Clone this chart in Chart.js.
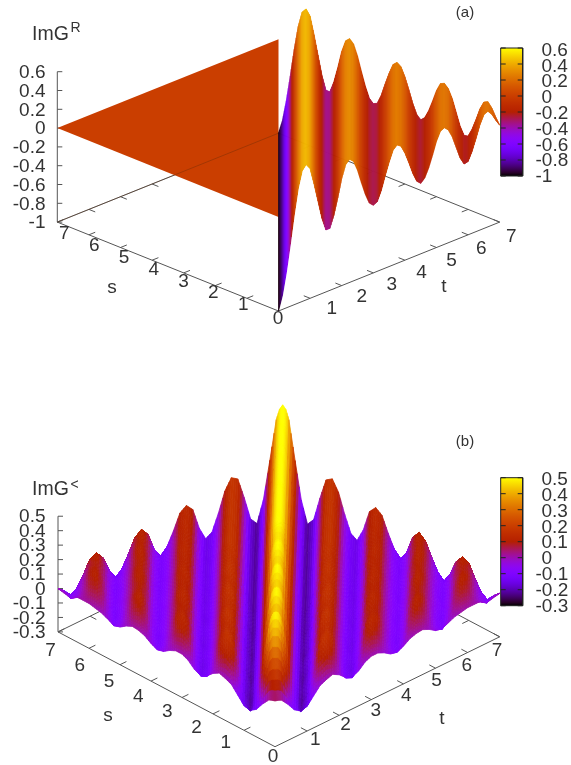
<!DOCTYPE html>
<html>
<head>
<meta charset="utf-8">
<script src="https://cdn.jsdelivr.net/npm/chart.js@4"></script>
<style>
html, body { margin: 0; padding: 0; background: #fff; }
canvas { position: absolute; left: 0; filter: blur(0.6px); }
</style>
</head>
<body>
<canvas id="panelA" width="571" height="380" style="top:0;width:571px;height:380px"></canvas>
<canvas id="panelB" width="571" height="385" style="top:380px;width:571px;height:385px"></canvas>
<script>
// Panel (a): ImG^R depends on t-s only, so one profile read along the ridges is enough
const aTau = [0,0.125,0.25,0.375,0.5,0.625,0.75,0.875,1,1.125,1.25,1.375,1.5,1.625,1.75,1.875,2,2.125,2.25,2.375,2.5,2.625,2.75,2.875,3,3.125,3.25,3.375,3.5,3.625,3.75,3.875,4,4.125,4.25,4.375,4.5,4.625,4.75,4.875,5,5.125,5.25,5.375,5.5,5.625,5.75,5.875,6,6.125,6.25,6.375,6.5,6.625,6.75,6.875,7];
const aValues = [-1,-0.85,-0.62,-0.34,-0.04,0.22,0.39,0.44,0.38,0.2,0,-0.2,-0.34,-0.34,-0.22,-0.05,0.14,0.27,0.31,0.27,0.16,0.01,-0.13,-0.24,-0.28,-0.26,-0.16,-0.02,0.11,0.22,0.26,0.23,0.14,0.02,-0.11,-0.21,-0.25,-0.21,-0.12,0,0.13,0.22,0.24,0.2,0.11,-0.02,-0.15,-0.23,-0.22,-0.13,-0.01,0.12,0.21,0.23,0.18,0.1,0.03];
const aZTicks = [0.6,0.4,0.2,0,-0.2,-0.4,-0.6,-0.8,-1];
const aFlatZ = 0;

// Panel (b): ImG^< by distance from the diagonal (columns) and distance from the front edges (rows)
const bTau = [0,0.1,0.2,0.4,0.6,0.8,1,1.2,1.4,1.6,1.8,2,2.2,2.4,2.6,2.8,3,3.2,3.4,3.6,3.8,4,4.2,4.4,4.6,4.8,5,5.2,5.4,5.6,5.8,6,6.2,6.4,6.6,6.8,7];
const bU = [0,0.12,0.3,0.6,0.95,1.3,1.65,2,2.35,2.7,3.05,3.4,7];
const bRow0 = [0.016,0.01,0,-0.05,-0.11,-0.14,-0.13,-0.08,-0.03,-0.01,0.005,-0.02,-0.06,-0.08,-0.06,-0.02,0,0,-0.02,-0.05,-0.06,-0.04,-0.01,0.005,0.01,-0.01,-0.04,-0.05,-0.03,-0.01,0,0.01,0.01,0.01,-0.02,-0.01,0];
const bRow1 = [0.21,0.2,0.172,0.04,-0.1,-0.17,-0.15,-0.05,0.04,0.07,0.05,-0.02,-0.09,-0.11,-0.06,0.02,0.056,0.044,-0.01,-0.06,-0.085,-0.05,0.02,0.05,0.04,-0.006,-0.056,-0.08,-0.04,0.02,0.046,0.044,0.01,-0.02,-0.05,-0.02];
const bRow2 = [0.4,0.39,0.335,0.12,-0.09,-0.205,-0.16,-0.02,0.11,0.14,0.09,-0.02,-0.115,-0.14,-0.06,0.07,0.11,0.086,0,-0.073,-0.108,-0.056,0.05,0.1,0.07,0,-0.07,-0.105,-0.046,0.045,0.09,0.076,0.01,-0.045,-0.075];
const bRow3 = [0.51,0.49,0.43,0.17,-0.08,-0.224,-0.17,0,0.15,0.18,0.11,-0.02,-0.13,-0.155,-0.06,0.09,0.14,0.11,0.01,-0.08,-0.122,-0.06,0.07,0.125,0.09,0,-0.08,-0.12,-0.05,0.06,0.115,0.095,0.01,-0.06];
const bRow4 = [0.43,0.41,0.36,0.14,-0.08,-0.21,-0.16,-0.01,0.12,0.15,0.09,-0.02,-0.12,-0.14,-0.06,0.07,0.115,0.09,0.005,-0.075,-0.11,-0.055,0.06,0.1,0.075,0,-0.07,-0.105,-0.05,0.05,0.095,0.08];
const bRow5 = [0.51,0.49,0.43,0.17,-0.08,-0.224,-0.17,0,0.15,0.18,0.11,-0.02,-0.13,-0.155,-0.06,0.09,0.14,0.11,0.01,-0.08,-0.122,-0.06,0.07,0.125,0.09,0,-0.08,-0.12,-0.05,0.06];
const bRow6 = [0.45,0.43,0.38,0.14,-0.08,-0.21,-0.16,-0.01,0.125,0.155,0.095,-0.02,-0.12,-0.145,-0.06,0.08,0.12,0.095,0.005,-0.075,-0.11,-0.055,0.06,0.11,0.08,0,-0.07,-0.105];
const bRow7 = [0.51,0.49,0.43,0.17,-0.08,-0.224,-0.17,0,0.15,0.18,0.11,-0.02,-0.13,-0.155,-0.06,0.09,0.14,0.11,0.01,-0.08,-0.122,-0.06,0.07,0.125,0.09,0,-0.08];
const bRow8 = [0.46,0.44,0.39,0.15,-0.08,-0.215,-0.165,0,0.13,0.16,0.1,-0.02,-0.125,-0.15,-0.06,0.08,0.125,0.1,0.005,-0.08,-0.115,-0.06,0.06,0.115,0.08];
const bRow9 = [0.51,0.49,0.43,0.17,-0.08,-0.224,-0.17,0,0.15,0.18,0.11,-0.02,-0.13,-0.155,-0.06,0.09,0.14,0.11,0.01,-0.08,-0.122,-0.06,0.07];
const bRow10 = [0.475,0.46,0.405,0.16,-0.08,-0.22,-0.165,0,0.14,0.165,0.105,-0.02,-0.13,-0.15,-0.06,0.085,0.13,0.105,0.005,-0.08,-0.115];
const bRow11 = [0.51,0.49,0.43,0.17,-0.08,-0.224,-0.17,0,0.15,0.18,0.11,-0.02,-0.13,-0.155,-0.06,0.09,0.14,0.11,0.01,-0.08];
const bFar = [0.51,0.49,0.43,0.17,-0.08,-0.224,-0.17,0,0.15,0.18,0.11,-0.02,-0.13,-0.155,-0.06,0.09,0.14,0.11,0.01,-0.08,-0.122,-0.06,0.07,0.125,0.09,0,-0.08,-0.12,-0.05,0.06,0.115,0.095,0.01,-0.06,-0.09,-0.04,0];
const bRows = [bRow0,bRow1,bRow2,bRow3,bRow4,bRow5,bRow6,bRow7,bRow8,bRow9,bRow10,bRow11,bFar];
const bZTicks = [0.5,0.4,0.3,0.2,0.1,0,-0.1,-0.2,-0.3];

const axisTicks = [1,2,3,4,5,6,7];
const AXIS_COLOR = '#555';
const TEXT_COLOR = '#333';
const FONT = 'Liberation Sans';

// gnuplot default pm3d palette
function palette(v) {
    const x = Math.min(1, Math.max(0, v));
    const r = Math.sqrt(x) * 255;
    const g = x * x * x * 255;
    const b = Math.max(0, Math.sin(2 * Math.PI * x)) * 255;
    return 'rgb(' + Math.round(r) + ',' + Math.round(g) + ',' + Math.round(b) + ')';
}

function projector(v) {
    return (s, t, z) => ({
        x: v.ox + s * v.sx + t * v.tx,
        y: v.oy + s * v.sy + t * v.ty - (z - v.zMin) * v.zUnit,
        z: z
    });
}

function lineSet(points, color, width, order) {
    return { data: points, showLine: true, borderColor: color, borderWidth: width, pointRadius: 0, fill: false, order: order };
}

// several short lines in one dataset, split with NaN points
function joinSegments(segments) {
    const out = [];
    segments.forEach(seg => { out.push(seg[0], seg[1], { x: NaN, y: NaN }); });
    return out;
}

function axisDatasets(view, project, zTicks) {
    const zMin = view.zMin, zMax = view.zMax;
    const front = [project(7, 0, zMin), project(0, 0, zMin), project(0, 7, zMin)];
    const back = [project(7, 0, zMin), project(7, 7, zMin), project(0, 7, zMin)];
    const zAxis = [project(7, 0, zMin), project(7, 0, zMax)];
    const frontTicks = [], backTicks = [];
    axisTicks.forEach(n => {
        frontTicks.push([project(n, 0, zMin), project(n, 0.2, zMin)]);
        frontTicks.push([project(0, n, zMin), project(0.2, n, zMin)]);
        backTicks.push([project(n, 7, zMin), project(n, 6.8, zMin)]);
        backTicks.push([project(7, n, zMin), project(6.8, n, zMin)]);
    });
    const zMarks = zTicks.map(z => {
        const p = project(7, 0, z);
        return [p, { x: p.x + 5, y: p.y }];
    });
    return [
        lineSet(back, AXIS_COLOR, 1, 1000),
        lineSet(joinSegments(backTicks), AXIS_COLOR, 1, 1000),
        lineSet(front, AXIS_COLOR, 1, 900),
        lineSet(joinSegments(frontTicks), AXIS_COLOR, 1, 900),
        lineSet(zAxis, AXIS_COLOR, 1, 900),
        lineSet(joinSegments(zMarks), AXIS_COLOR, 1, 900)
    ];
}

function colorBoxDatasets(canvas, box, yMin, zTicks) {
    const ctx = canvas.getContext('2d');
    const grad = ctx.createLinearGradient(0, box.top - yMin, 0, box.bottom - yMin);
    for (let i = 0; i <= 40; i++) grad.addColorStop(i / 40, palette(1 - i / 40));
    const mid = (box.left + box.right) / 2;
    const yOf = z => box.top + (box.zMax - z) / (box.zMax - box.zMin) * (box.bottom - box.top);
    const marks = [];
    zTicks.forEach(z => {
        marks.push([{ x: box.left, y: yOf(z) }, { x: box.left + 5, y: yOf(z) }]);
        marks.push([{ x: box.right - 5, y: yOf(z) }, { x: box.right, y: yOf(z) }]);
    });
    return [
        lineSet([{ x: mid, y: box.top }, { x: mid, y: box.bottom }], grad, box.right - box.left, 5),
        lineSet(joinSegments(marks), '#222', 1, 4),
        lineSet([
            { x: box.left, y: box.top }, { x: box.right, y: box.top },
            { x: box.right, y: box.bottom }, { x: box.left, y: box.bottom },
            { x: box.left, y: box.top }
        ], '#222', 1, 4)
    ];
}

// fills the strip between a row dataset and the next one, shading each piece by its z
const meshPlugin = {
    id: 'mesh',
    afterDatasetDraw(chart, args) {
        const ds = chart.data.datasets[args.index];
        if (ds.stripTo === undefined) return;
        const ctx = chart.ctx;
        const near = args.meta.data;
        const far = chart.getDatasetMeta(ds.stripTo).data;
        const nearZ = ds.data;
        const farZ = chart.data.datasets[ds.stripTo].data;
        const view = ds.view;
        const range = view.zMax - view.zMin;
        ctx.save();
        ctx.lineWidth = 0.8;
        for (let i = 0; i < near.length - 1; i++) {
            for (let a = 0; a < view.stepsAcross; a++) {
                for (let b = 0; b < view.stepsAlong; b++) {
                    const a0 = a / view.stepsAcross, a1 = (a + 1) / view.stepsAcross;
                    const b0 = b / view.stepsAlong, b1 = (b + 1) / view.stepsAlong;
                    const at = (u, v, key, n0, n1, f0, f1) => {
                        const n = n0[key] + (n1[key] - n0[key]) * u;
                        const f = f0[key] + (f1[key] - f0[key]) * u;
                        return n + (f - n) * v;
                    };
                    const px = (u, v) => at(u, v, 'x', near[i], near[i + 1], far[i], far[i + 1]);
                    const py = (u, v) => at(u, v, 'y', near[i], near[i + 1], far[i], far[i + 1]);
                    const z = at((a0 + a1) / 2, (b0 + b1) / 2, 'z', nearZ[i], nearZ[i + 1], farZ[i], farZ[i + 1]);
                    const color = palette((z - view.zMin) / range);
                    ctx.fillStyle = color;
                    ctx.strokeStyle = color;
                    ctx.beginPath();
                    ctx.moveTo(px(a0, b0), py(a0, b0));
                    ctx.lineTo(px(a1, b0), py(a1, b0));
                    ctx.lineTo(px(a1, b1), py(a1, b1));
                    ctx.lineTo(px(a0, b1), py(a0, b1));
                    ctx.closePath();
                    ctx.fill();
                    ctx.stroke();
                }
            }
        }
        ctx.restore();
    }
};

const flatPlugin = {
    id: 'flat',
    afterDatasetDraw(chart, args) {
        const ds = chart.data.datasets[args.index];
        if (!ds.flatColor) return;
        const pts = args.meta.data;
        const ctx = chart.ctx;
        ctx.save();
        ctx.fillStyle = ds.flatColor;
        ctx.beginPath();
        pts.forEach((p, i) => { if (i === 0) ctx.moveTo(p.x, p.y); else ctx.lineTo(p.x, p.y); });
        ctx.closePath();
        ctx.fill();
        ctx.restore();
    }
};

const textPlugin = {
    id: 'texts',
    afterDraw(chart) {
        const ctx = chart.ctx;
        const sx = chart.scales.x, sy = chart.scales.y;
        ctx.save();
        ctx.fillStyle = TEXT_COLOR;
        ctx.textBaseline = 'middle';
        chart.options.plugins.texts.items.forEach(it => {
            ctx.font = (it.size || 19) + 'px "' + FONT + '"';
            ctx.textAlign = it.align || 'center';
            ctx.fillText(it.text, sx.getPixelForValue(it.x), sy.getPixelForValue(it.y));
        });
        ctx.restore();
    }
};

function makeChart(canvas, yMin, yMax, datasets, items) {
    return new Chart(canvas, {
        type: 'scatter',
        data: { datasets: datasets },
        options: {
            responsive: false,
            animation: false,
            layout: { padding: 0 },
            events: [],
            scales: {
                x: { type: 'linear', display: false, min: 0, max: 571 },
                y: { type: 'linear', display: false, min: yMin, max: yMax, reverse: true }
            },
            plugins: { legend: { display: false }, tooltip: { enabled: false }, texts: { items: items } }
        },
        plugins: [meshPlugin, flatPlugin, textPlugin]
    });
}

function commonLabels(view, project, zTicks, box, lab) {
    const items = [];
    zTicks.forEach(z => {
        items.push({ text: String(z), x: 45.5, y: project(7, 0, z).y + 1, align: 'right' });
    });
    const boxStep = (box.labelBottom - box.labelTop) / (zTicks.length - 1);
    zTicks.forEach((z, i) => {
        const neg = z < 0;
        items.push({ text: String(z), x: neg ? 535.5 : 541.5, y: box.labelTop + i * boxStep, align: 'left' });
    });
    axisTicks.forEach(n => {
        items.push({ text: String(n), x: lab.sx0 + lab.sdx * n, y: lab.sy0 + lab.sdy * n });
        items.push({ text: String(n), x: lab.tx0 + lab.tdx * n, y: lab.ty0 + lab.tdy * n });
    });
    items.push({ text: '0', x: lab.zero[0], y: lab.zero[1] });
    items.push({ text: 's', x: lab.s[0], y: lab.s[1] });
    items.push({ text: 't', x: lab.t[0], y: lab.t[1] });
    items.push({ text: lab.tag, x: lab.tagPos[0], y: lab.tagPos[1], size: 15 });
    items.push({ text: 'ImG', x: 32, y: lab.titleY, align: 'left', size: 19.5 });
    items.push({ text: lab.sup, x: 70.5, y: lab.supY, align: 'left', size: 14 });
    return items;
}

// --- panel (a) ---
const viewA = { ox: 278.5, oy: 311, sx: -31.6, sy: -12.7, tx: 31.6, ty: -12.7, zUnit: 94, zMin: -1, zMax: 0.6, stepsAcross: 4, stepsAlong: 1 };
const projA = projector(viewA);
const boxA = { left: 500.7, right: 522.7, top: 48, bottom: 176, zMin: -1, zMax: 0.6, labelTop: 50.5, labelBottom: 177 };
const canvasA = document.getElementById('panelA');

const aFront = aTau.map((tau, i) => projA(0, tau, aValues[i]));
const aBack = aTau.map((tau, i) => projA(7 - tau, 7, aValues[i]));
const aFlat = [projA(7, 0, aFlatZ), projA(0, 0, aFlatZ), projA(7, 7, aFlatZ)];

const setsA = axisDatasets(viewA, projA, aZTicks);
setsA.push({ data: aFlat, showLine: false, pointRadius: 0, flatColor: palette((aFlatZ - viewA.zMin) / (viewA.zMax - viewA.zMin)), order: 300 });
const aFarIndex = setsA.length;
setsA.push({ data: aBack, showLine: false, pointRadius: 0, order: 201 });
setsA.push({ data: aFront, showLine: false, pointRadius: 0, stripTo: aFarIndex, view: viewA, order: 200 });
// back axis seen faintly through the flat sheet
setsA.push(lineSet([projA(7, 0, viewA.zMin), projA(7, 7, viewA.zMin)], 'rgba(90,40,10,0.35)', 1, 1));
colorBoxDatasets(canvasA, boxA, 0, aZTicks).forEach(d => setsA.push(d));

makeChart(canvasA, 0, 380, setsA, commonLabels(viewA, projA, aZTicks, boxA, {
    sx0: 273, sdx: -29.8, sy0: 317, sdy: -11.9,
    tx0: 302, tdx: 29.9, ty0: 321, tdy: -12,
    zero: [278, 319], s: [112, 288], t: [444, 287],
    tag: '(a)', tagPos: [465, 13], titleY: 35, sup: 'R', supY: 28
}));

// --- panel (b) ---
const viewB = { ox: 275, oy: 746.7, sx: -31, sy: -16.4, tx: 32.1, ty: -15.7, zUnit: 144.6, zMin: -0.3, zMax: 0.5, stepsAcross: 3, stepsAlong: 3 };
const projB = projector(viewB);
const boxB = { left: 500.7, right: 522.7, top: 477.7, bottom: 605.7, zMin: -0.3, zMax: 0.5, labelTop: 479.5, labelBottom: 607 };
const canvasB = document.getElementById('panelB');

const setsB = axisDatasets(viewB, projB, bZTicks);
// right half t>s, left half s>t, each painted from the far row to the front row
[false, true].forEach((mirror, side) => {
    const start = setsB.length;
    bRows.forEach((row, j) => {
        const points = bTau.map((tau, i) => {
            const u = Math.min(bU[j], 7 - tau);
            const z = row[i] !== undefined ? row[i] : bFar[i];
            return mirror ? projB(u + tau, u, z) : projB(u, u + tau, z);
        });
        const set = { data: points, showLine: false, pointRadius: 0, order: 500 - j };
        if (j < bRows.length - 1) {
            set.stripTo = start + j + 1;
            set.view = viewB;
            set.order = 500 - j - side * 0.5;
        }
        setsB.push(set);
    });
});
colorBoxDatasets(canvasB, boxB, 380, bZTicks).forEach(d => setsB.push(d));

makeChart(canvasB, 380, 765, setsB, commonLabels(viewB, projB, bZTicks, boxB, {
    sx0: 255, sdx: -29.2, sy0: 758, sdy: -15.3,
    tx0: 285, tdx: 30.3, ty0: 755, tdy: -14.9,
    zero: [273, 757], s: [108, 716], t: [442, 719],
    tag: '(b)', tagPos: [465, 442], titleY: 490, sup: '<', supY: 485
}));
</script>
</body>
</html>
